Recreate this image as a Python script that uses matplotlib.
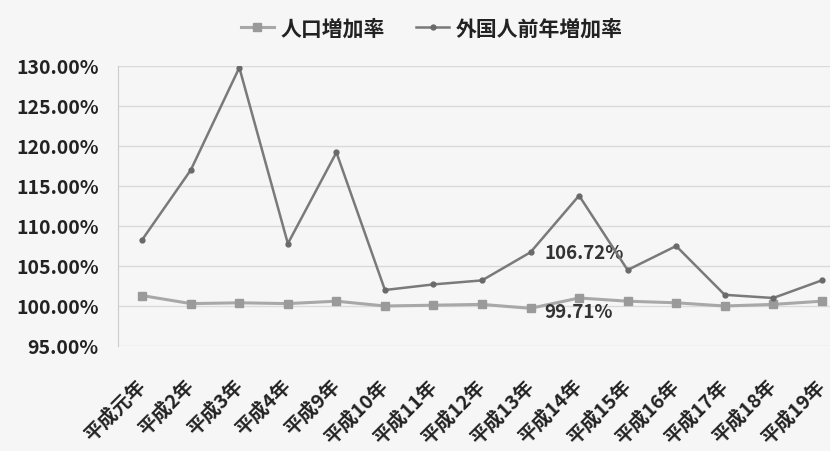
import matplotlib
matplotlib.use('Agg')
import matplotlib.pyplot as plt
from matplotlib.ticker import FuncFormatter

plt.rcParams['font.family'] = ['Noto Sans CJK JP', 'DejaVu Sans']

# 和暦の年
nendo = ['平成元年', '平成2年', '平成3年', '平成4年', '平成9年', '平成10年', '平成11年',
         '平成12年', '平成13年', '平成14年', '平成15年', '平成16年', '平成17年',
         '平成18年', '平成19年']

# 人口増加率 (%)
jinko = [101.3, 100.3, 100.4, 100.3, 100.6, 100.0, 100.1, 100.2, 99.71,
         101.0, 100.6, 100.4, 100.0, 100.2, 100.6]

# 外国人前年増加率 (%)
gaikoku = [108.3, 117.0, 129.8, 107.8, 119.2, 102.0, 102.7, 103.2, 106.72,
           113.8, 104.5, 107.5, 101.4, 101.0, 103.2]

bg = '#f6f6f6'
fig = plt.figure(figsize=(8.3, 4.52), dpi=100, facecolor=bg)
ax = fig.add_axes([118 / 830, 1 - 347 / 452, 728 / 830, 280 / 452])
ax.set_facecolor(bg)

x = list(range(len(nendo)))
ax.plot(x, jinko, color='#a8a8a8', lw=2.2, marker='s', ms=5.5,
        mfc='#9a9a9a', mec='#9a9a9a', label='人口増加率', zorder=3)
ax.plot(x, gaikoku, color='#7a7a7a', lw=1.8, marker='o', ms=3.5,
        mfc='#6a6a6a', mec='#6a6a6a', label='外国人前年増加率', zorder=4)

# データラベル (平成13年)
i = nendo.index('平成13年')
ax.annotate(f'{gaikoku[i]:.2f}%', (i, gaikoku[i]), xytext=(10, 0),
            textcoords='offset points', ha='left', va='center',
            fontsize=13.5, fontweight='bold', color='#333333')
ax.annotate(f'{jinko[i]:.2f}%', (i, jinko[i]), xytext=(10, -2),
            textcoords='offset points', ha='left', va='center',
            fontsize=13.5, fontweight='bold', color='#333333')

ax.set_xlim(-0.5, len(nendo) - 0.5)
ax.set_ylim(95, 130)
ax.set_yticks(range(95, 131, 5))
ax.yaxis.set_major_formatter(FuncFormatter(lambda v, p: f'{v:.2f}%'))
ax.grid(axis='y', color='#dadada', lw=1)
ax.set_axisbelow(True)

for s in ['top', 'right', 'bottom']:
    ax.spines[s].set_visible(False)
ax.spines['left'].set_color('#cccccc')

ax.tick_params(axis='y', length=0, pad=14, labelsize=14, labelcolor='#222222')
for t in ax.get_yticklabels():
    t.set_fontweight('bold')

ax.set_xticks(x)
ax.set_xticklabels(nendo, rotation=45, ha='right', va='center',
                   rotation_mode='anchor', fontsize=14, fontweight='bold',
                   color='#222222')
ax.tick_params(axis='x', length=0, pad=26)

leg = fig.legend(loc='upper center', bbox_to_anchor=(0.52, 1.0), ncol=2,
                 frameon=False, fontsize=15, handlelength=1.6,
                 columnspacing=1.5, handletextpad=0.3)
for t in leg.get_texts():
    t.set_fontweight('bold')
    t.set_color('#222222')

fig.savefig('out.png', dpi=100, facecolor=bg)
